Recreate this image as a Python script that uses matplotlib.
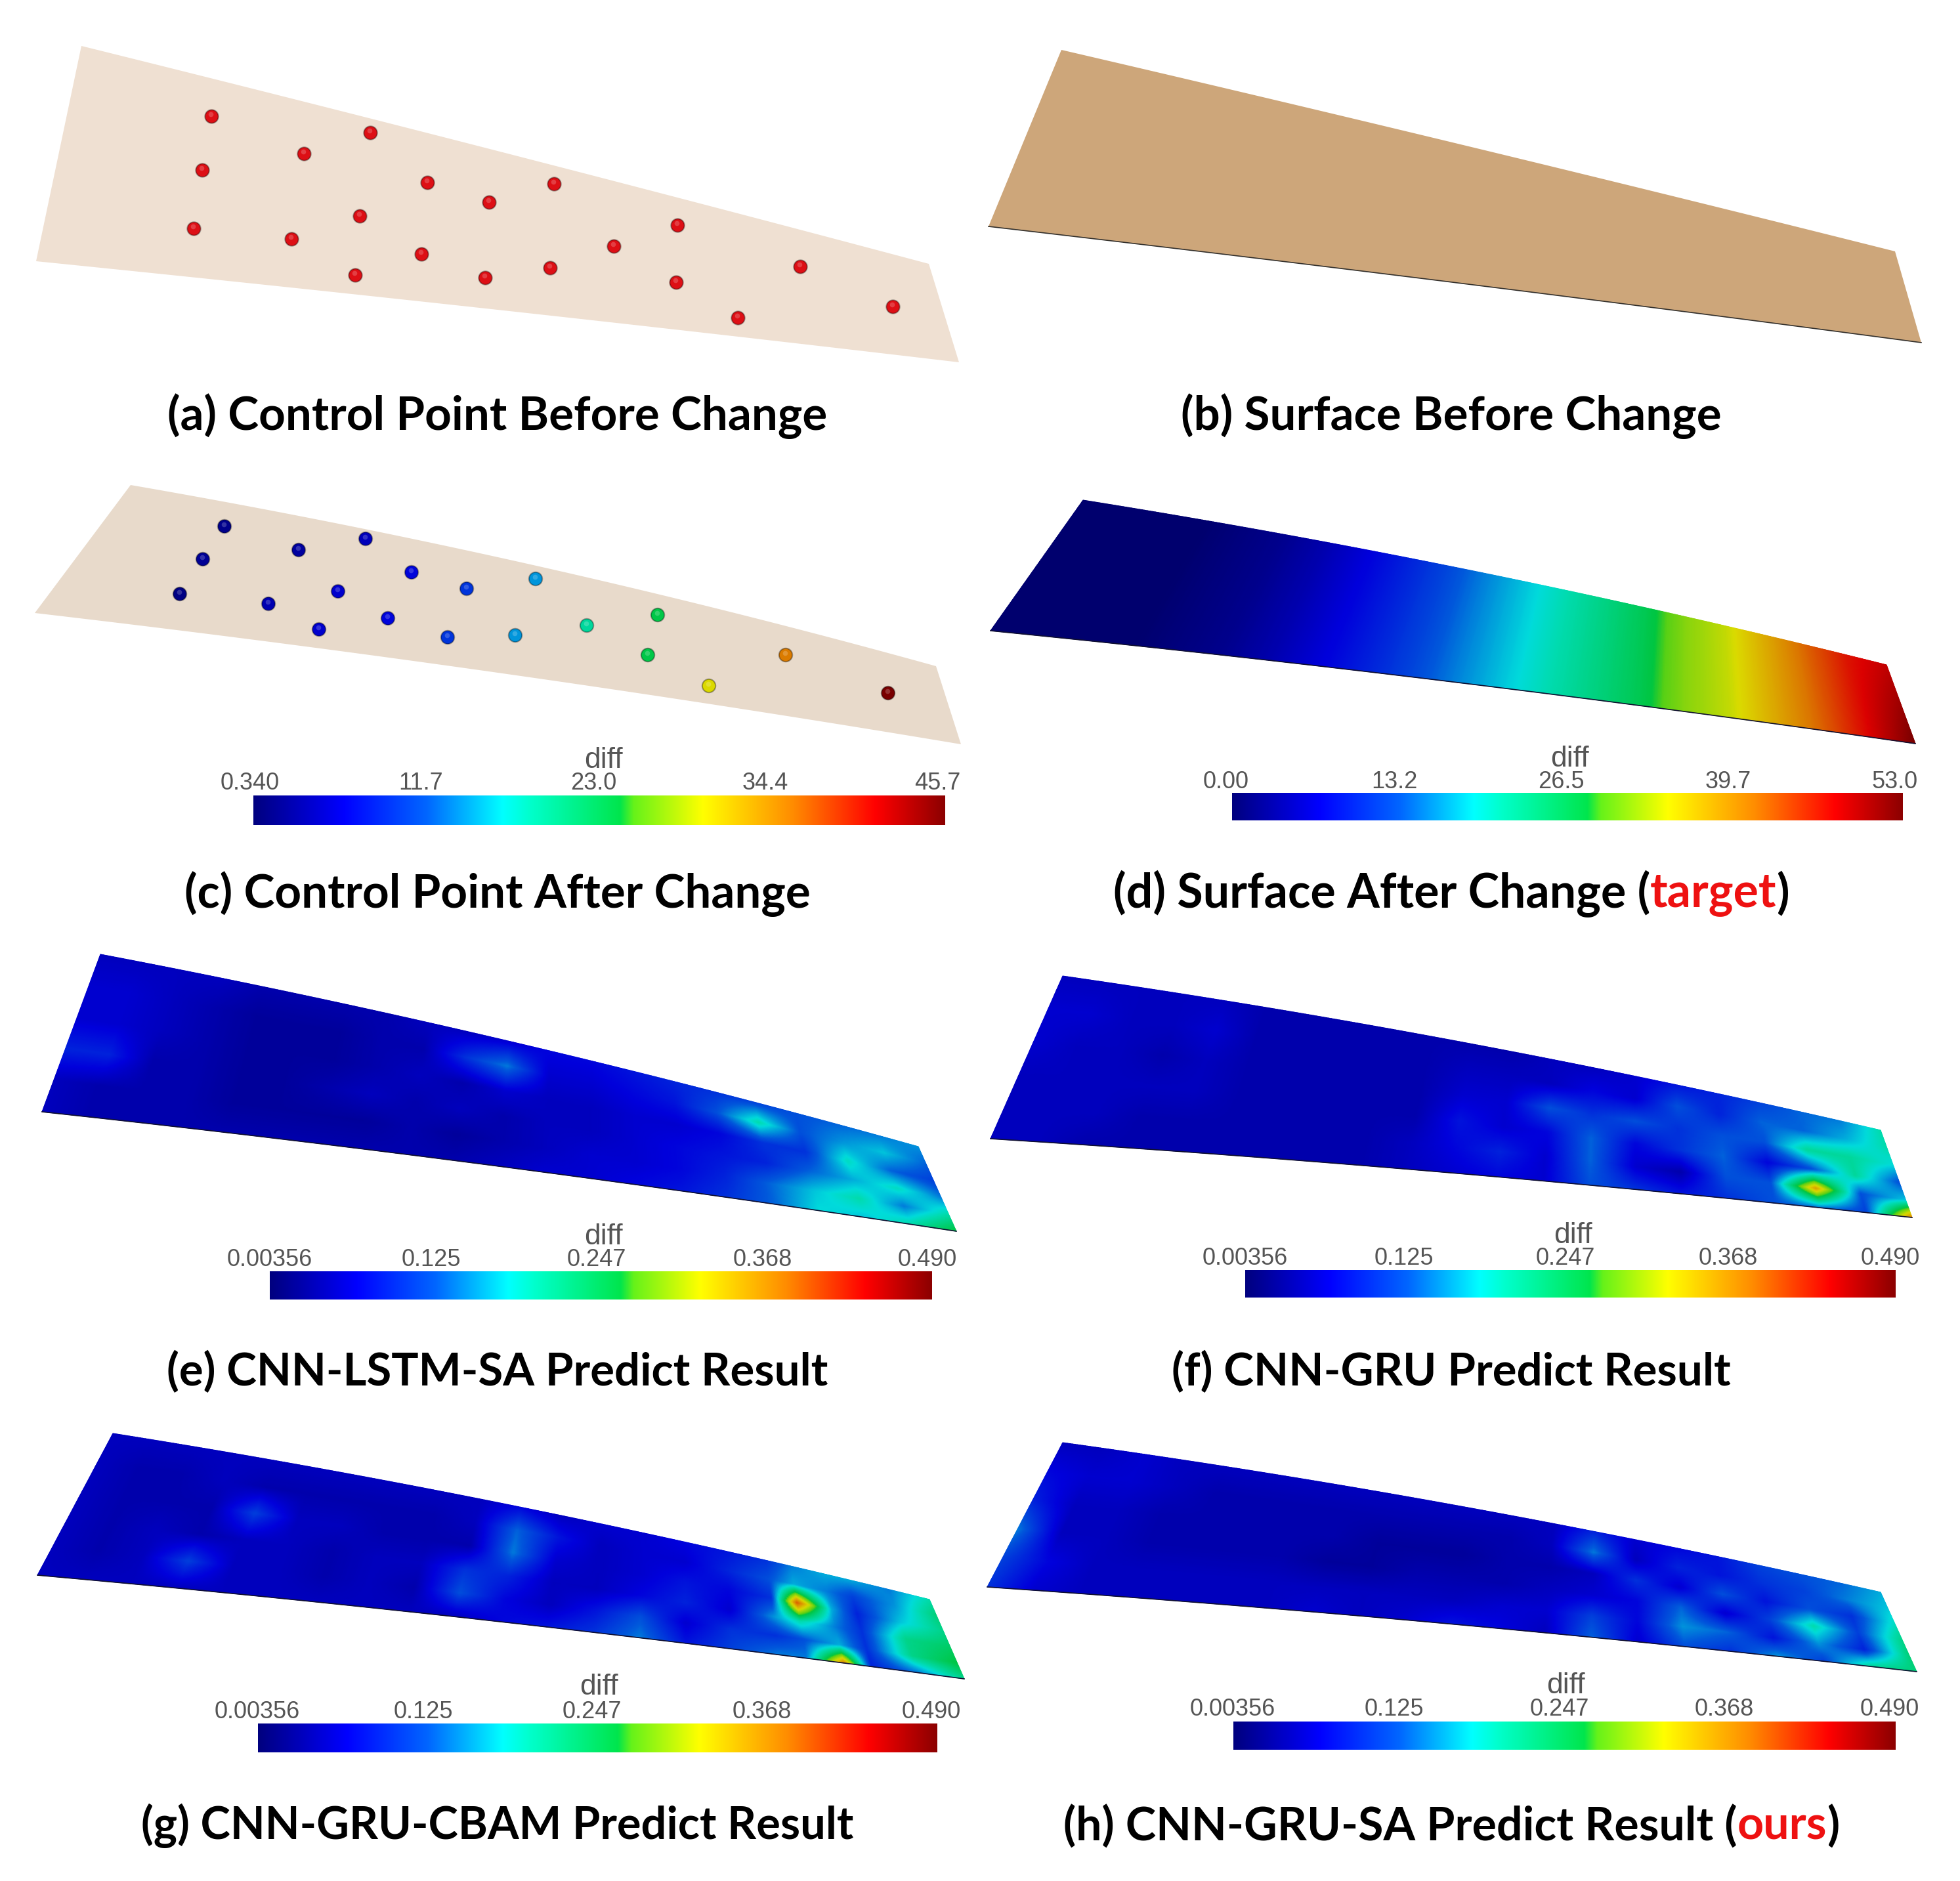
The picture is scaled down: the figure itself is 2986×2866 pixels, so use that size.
import matplotlib

matplotlib.use("Agg")
import matplotlib.pyplot as plt
import numpy as np
from matplotlib.colors import LinearSegmentedColormap, Normalize

# wing outlines in image pixels: top-left, top-right, bottom-right, bottom-left
wing_a = [(124, 70), (1415, 402), (1461, 552), (55, 398)]
wing_b = [(1617, 76), (2887, 383), (2927, 522), (1506, 345)]
wing_c = [(199, 739), (1426, 1015), (1464, 1134), (53, 934)]
wing_d = [(1650, 762), (2874, 1013), (2918, 1133), (1509, 961)]
wing_e = [(153, 1454), (1399, 1747), (1457, 1876), (64, 1694)]
wing_f = [(1619, 1487), (2865, 1722), (2913, 1855), (1509, 1735)]
wing_g = [(172, 2184), (1416, 2437), (1469, 2558), (57, 2400)]
wing_h = [(1619, 2198), (2865, 2426), (2920, 2547), (1504, 2418)]

# control points
points_a_x = [322, 564, 463, 308, 651, 745, 844, 548, 295, 444, 1032, 642, 935, 541, 739, 838, 1030, 1219, 1124, 1360]
points_a_y = [177, 202, 234, 259, 278, 308, 280, 329, 348, 364, 343, 387, 375, 419, 423, 408, 430, 406, 484, 467]
points_c_x = [342, 557, 455, 309, 627, 816, 711, 515, 274, 409, 1002, 591, 894, 486, 785, 682, 987, 1197, 1080, 1353]
points_c_y = [802, 821, 838, 852, 872, 882, 897, 901, 905, 920, 937, 942, 953, 959, 968, 971, 998, 998, 1045, 1056]
points_c_diff = [2, 4.5, 3, 2.5, 6.5, 14, 9.5, 5.5, 1.5, 4, 24, 6.5, 19.5, 5.5, 14, 9.5, 24, 35.6, 30, 45.7]

# diff read along the span (columns) and across the chord (rows)
field_d = [
    [0, 0, 0, 0, 1, 2, 4, 6.5, 9, 11.7, 15, 18, 21, 24, 27, 31, 33.5, 38, 42.5, 46.6, 49],
    [0, 0, 0, 0, 1, 2, 4, 6.5, 9, 11.7, 15, 18, 21, 24, 27, 31, 33.5, 38, 42.5, 47.5, 53],
]
field_e = [
    [.05, .05, .05, .05, .04, .04, .04, .04, .05, .05, .06, .07, .07, .08, .09, .10, .11, .12, .13, .14, .15],
    [.06, .06, .05, .04, .03, .03, .03, .04, .04, .10, .14, .06, .06, .07, .08, .12, .20, .12, .15, .17, .13],
    [.06, .06, .05, .04, .03, .03, .03, .04, .05, .04, .06, .05, .05, .06, .06, .07, .10, .10, .19, .13, .11],
    [.09, .09, .04, .04, .03, .03, .04, .05, .04, .05, .04, .05, .05, .06, .07, .08, .09, .13, .16, .19, .14],
    [.05, .04, .04, .04, .03, .03, .03, .03, .04, .03, .04, .05, .06, .06, .07, .09, .13, .17, .20, .14, .20],
    [.05, .04, .04, .04, .04, .04, .04, .04, .04, .04, .05, .06, .06, .07, .08, .10, .13, .18, .17, .20, .26],
]
field_f = [
    [.05, .05, .05, .05, .05, .04, .04, .04, .04, .04, .04, .04, .05, .05, .06, .08, .09, .11, .13, .14, .20],
    [.06, .06, .05, .05, .06, .04, .04, .04, .04, .04, .05, .05, .05, .07, .06, .12, .09, .13, .13, .16, .20],
    [.06, .05, .05, .04, .05, .04, .04, .04, .04, .04, .06, .06, .12, .10, .12, .10, .12, .12, .21, .21, .18],
    [.05, .05, .05, .05, .05, .04, .04, .04, .04, .04, .08, .06, .07, .13, .07, .10, .13, .07, .12, .21, .12],
    [.05, .05, .05, .04, .04, .04, .04, .04, .04, .05, .07, .09, .06, .13, .06, .04, .12, .12, .36, .12, .17],
    [.05, .05, .04, .04, .04, .04, .04, .04, .04, .05, .06, .07, .06, .12, .10, .08, .10, .12, .14, .11, .38],
]
# g has one extra column around the two hot spots
spans_g = [0, .05, .1, .15, .2, .25, .3, .35, .4, .45, .5, .55, .6, .65, .7, .75, .8, .83, .87, .9, .95, 1]
field_g = [
    [.05, .05, .05, .05, .05, .05, .05, .05, .05, .05, .07, .05, .06, .06, .07, .08, .10, .14, .16, .16, .14, .20],
    [.05, .04, .04, .05, .04, .04, .04, .04, .04, .05, .13, .08, .05, .06, .06, .09, .12, .16, .14, .11, .15, .23],
    [.05, .04, .04, .04, .11, .05, .05, .04, .04, .04, .14, .06, .05, .06, .08, .07, .10, .40, .16, .09, .17, .22],
    [.05, .04, .05, .04, .05, .05, .04, .05, .05, .10, .09, .05, .05, .07, .09, .06, .15, .20, .14, .10, .22, .24],
    [.05, .04, .05, .11, .05, .05, .04, .05, .04, .12, .07, .05, .08, .12, .06, .10, .10, .12, .16, .10, .22, .26],
    [.05, .05, .05, .05, .05, .05, .05, .05, .05, .05, .07, .08, .10, .14, .08, .11, .14, .14, .38, .09, .14, .22],
]
field_h = [
    [.05, .05, .06, .05, .05, .05, .05, .05, .05, .05, .05, .05, .05, .09, .06, .07, .08, .11, .12, .13, .16],
    [.07, .06, .06, .05, .04, .04, .04, .04, .04, .04, .04, .04, .05, .14, .05, .09, .08, .10, .11, .14, .17],
    [.09, .05, .05, .04, .04, .04, .04, .04, .03, .03, .03, .04, .04, .05, .10, .06, .12, .08, .12, .10, .19],
    [.14, .05, .05, .04, .04, .04, .04, .03, .03, .04, .04, .04, .05, .06, .07, .13, .06, .11, .20, .11, .22],
    [.11, .07, .05, .05, .05, .05, .05, .05, .05, .05, .05, .06, .06, .11, .07, .15, .13, .08, .15, .09, .23],
    [.10, .06, .05, .05, .05, .05, .05, .06, .05, .06, .08, .07, .05, .13, .06, .12, .10, .15, .11, .21, .23],
]

# colour bars: tick labels, numeric range
ticks_c = ["0.340", "11.7", "23.0", "34.4", "45.7"]
ticks_d = ["0.00", "13.2", "26.5", "39.7", "53.0"]
ticks_pred = ["0.00356", "0.125", "0.247", "0.368", "0.490"]
range_c = (0.34, 45.7)
range_d = (0.0, 53.0)
range_pred = (0.00356, 0.49)

jet_stops = [
    (0.0, (0.0, 0.0, 0.5)),
    (0.13, (0.0, 0.0, 1.0)),
    (0.25, (0.0, 0.4, 1.0)),
    (0.36, (0.0, 1.0, 1.0)),
    (0.40, (0.0, 1.0, 0.8)),
    (0.53, (0.0, 0.9, 0.3)),
    (0.55, (0.4, 0.95, 0.1)),
    (0.65, (1.0, 1.0, 0.0)),
    (0.78, (1.0, 0.55, 0.0)),
    (0.90, (1.0, 0.0, 0.0)),
    (1.0, (0.55, 0.0, 0.0)),
]
cmap = LinearSegmentedColormap.from_list("diff_jet", jet_stops, N=512)
# на поверхности цвета приглушены освещением
surface_cmap = LinearSegmentedColormap.from_list(
    "diff_surface", [(p, tuple(0.86 * c for c in rgb)) for p, rgb in jet_stops], N=512
)


def wing_edges(corners, top_sag, bottom_sag, u):
    """Верхняя и нижняя кромки крыла с небольшим изгибом"""
    (x0, y0), (x1, y1), (x2, y2), (x3, y3) = corners
    bend = 4 * u * (1 - u)
    top_x = x0 + (x1 - x0) * u
    top_y = y0 + (y1 - y0) * u + top_sag * bend
    bot_x = x3 + (x2 - x3) * u
    bot_y = y3 + (y2 - y3) * u + bottom_sag * bend
    return top_x, top_y, bot_x, bot_y


def draw_flat(ax, corners, color, top_sag=-6, bottom_sag=-4, edge=None):
    u = np.linspace(0, 1, 60)
    tx, ty, bx, by = wing_edges(corners, top_sag, bottom_sag, u)
    ax.fill(np.r_[tx, bx[::-1]], np.r_[ty, by[::-1]], color=color, lw=0)
    if edge:
        ax.plot(bx, by, color=edge, lw=1.2)


def draw_field(ax, corners, field, limits, spans=None, top_sag=-14, bottom_sag=-8):
    field = np.asarray(field, dtype=float)
    rows, cols = field.shape
    if spans is None:
        spans = np.linspace(0, 1, cols)
    u = np.linspace(0, 1, 500)
    v = np.linspace(0, 1, 120)
    by_col = np.array([np.interp(u, spans, row) for row in field])
    fine = np.array([np.interp(v, np.linspace(0, 1, rows), by_col[:, j]) for j in range(u.size)]).T
    tx, ty, bx, by = wing_edges(corners, top_sag, bottom_sag, u)
    X = np.outer(1 - v, tx) + np.outer(v, bx)
    Y = np.outer(1 - v, ty) + np.outer(v, by)
    ax.pcolormesh(X, Y, fine, cmap=surface_cmap, norm=Normalize(*limits), shading="gouraud")
    ax.plot(bx, by, color="#101030", lw=1.2)


def draw_colorbar(ax, x0, x1, y0, y1, labels, label_x, label_y, diff_x, diff_y):
    grad = np.linspace(0, 1, 512)[None, :]
    ax.imshow(grad, cmap=cmap, extent=(x0, x1, y1, y0), aspect="auto", interpolation="bilinear")
    for text, lx in zip(labels, label_x):
        ax.text(lx, label_y + 3, text, ha="center", va="center", fontsize=26, color="#555555", family="Liberation Sans")
    ax.text(diff_x, diff_y, "diff", ha="center", va="center", fontsize=32, color="#555555", family="Liberation Sans")


def draw_dots(ax, xs, ys, colors):
    ax.scatter(xs, ys, s=215, c=colors, edgecolors="#00000055", linewidths=1.5, zorder=3)
    ax.scatter(np.array(xs) - 1, np.array(ys) - 3, s=30, c="#ffffff", alpha=0.2, linewidths=0, zorder=4)


def draw_title(fig, ax, cx, y, parts, size=51):
    """Подпись из нескольких кусков разного цвета, центрированная по cx"""
    renderer = fig.canvas.get_renderer()
    items = []
    total = 0
    for text, color in parts:
        t = ax.text(0, y, text, fontsize=size, fontweight="bold", family="Lato", color=color, ha="left", va="center")
        w = t.get_window_extent(renderer).width
        items.append((t, w))
        total += w
    x = cx - total / 2
    for t, w in items:
        t.set_x(x)
        x += w


fig = plt.figure(figsize=(29.86, 28.66), dpi=100)
ax = fig.add_axes([0, 0, 1, 1])

draw_flat(ax, wing_a, "#EFE0D2", top_sag=-3, bottom_sag=-3)
draw_dots(ax, points_a_x, points_a_y, "#DD0F15")
draw_flat(ax, wing_b, "#CDA67A", top_sag=-3, bottom_sag=-3, edge="#33302c")
draw_flat(ax, wing_c, "#E8DACB", top_sag=-16, bottom_sag=-9)
c_norm = Normalize(*range_c)
draw_dots(ax, points_c_x, points_c_y, [surface_cmap(c_norm(d)) for d in points_c_diff])
draw_field(ax, wing_d, field_d, range_d)
draw_field(ax, wing_e, field_e, range_pred)
draw_field(ax, wing_f, field_f, range_pred)
draw_field(ax, wing_g, field_g, range_pred, spans=spans_g)
draw_field(ax, wing_h, field_h, range_pred)

draw_colorbar(ax, 386, 1440, 1212, 1257, ticks_c, [381, 641, 904, 1166, 1428], 1190, 919, 1158)
draw_colorbar(ax, 1877, 2899, 1208, 1250, ticks_d, [1868, 2124, 2378, 2633, 2887], 1188, 2391, 1156)
draw_colorbar(ax, 411, 1420, 1937, 1980, ticks_pred, [411, 657, 909, 1162, 1413], 1916, 919, 1884)
draw_colorbar(ax, 1897, 2888, 1935, 1977, ticks_pred, [1897, 2139, 2385, 2633, 2880], 1914, 2396, 1882)
draw_colorbar(ax, 393, 1428, 2626, 2670, ticks_pred, [392, 645, 902, 1161, 1419], 2605, 912, 2571)
draw_colorbar(ax, 1879, 2888, 2623, 2666, ticks_pred, [1878, 2124, 2376, 2627, 2879], 2602, 2385, 2569)

ax.set_xlim(0, 2986)
ax.set_ylim(2866, 0)
ax.axis("off")

fig.canvas.draw()
draw_title(fig, ax, 758, 634, [("(a) Control Point Before Change", "black")])
draw_title(fig, ax, 2211, 634, [("(b) Surface Before Change", "black")])
draw_title(fig, ax, 758, 1362, [("(c) Control Point After Change", "black")])
draw_title(fig, ax, 2211, 1362, [("(d) Surface After Change (", "black"), ("target", "#EE1111"), (")", "black")], size=51.6)
draw_title(fig, ax, 758, 2091, [("(e) CNN-LSTM-SA Predict Result", "black")], size=49.7)
draw_title(fig, ax, 2211, 2091, [("(f) CNN-GRU Predict Result", "black")], size=49.8)
draw_title(fig, ax, 758, 2782, [("(g) CNN-GRU-CBAM Predict Result", "black")], size=49.4)
draw_title(fig, ax, 2211, 2782, [("(h) CNN-GRU-SA Predict Result (", "black"), ("ours", "#EE1111"), (")", "black")], size=50.4)

fig.savefig("out.png", dpi=100, facecolor="white")
